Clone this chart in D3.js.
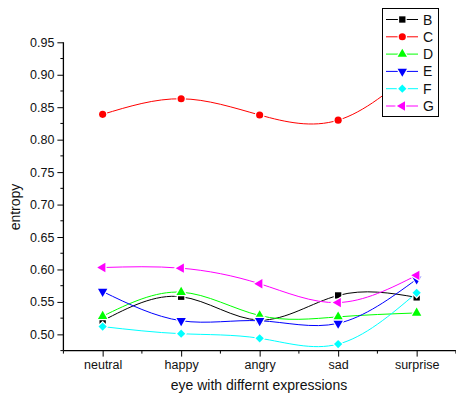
<!DOCTYPE html>
<html><head><meta charset="utf-8">
<script src="https://cdn.jsdelivr.net/npm/d3@7"></script>
<style>body{margin:0;background:#fff}svg{display:block;font-family:"Liberation Sans",Arial,sans-serif}</style>
</head><body><svg id="c" width="456" height="395"></svg>
<script>
const categories = ["neutral","happy","angry","sad","surprise"];
const seriesNames = ["B","C","D","E","F","G"];
const B = [0.521,0.558,0.522,0.560,0.557];
const C = [0.839,0.863,0.838,0.830,0.910];
const D = [0.528,0.565,0.529,0.527,0.533];
const E = [0.566,0.521,0.521,0.517,0.585];
const F = [0.512,0.501,0.494,0.485,0.564];
const G = [0.603,0.602,0.578,0.549,0.591];
const yTicks = [0.50,0.55,0.60,0.65,0.70,0.75,0.80,0.85,0.90,0.95];
const colors = ["#000000","#ff0000","#00ff00","#0000ff","#00ffff","#ff00ff"];
const symbols = ["square","circle","triangle","triangleDown","diamond","triangleLeft"];
const allSeries = [B,C,D,E,F,G];

const svg = d3.select("#c");
const x = d3.scaleLinear().domain([0.5,5.5]).range([63.4,455.9]);
const y = d3.scaleLinear().domain([0.475,0.95]).range([350.6,42.3]);

// axes
const yAxis = d3.axisLeft(y).tickValues(yTicks).tickFormat(d3.format(".2f")).tickSize(6).tickPadding(3);
const gy = svg.append("g").attr("transform","translate(63.4,0)").call(yAxis);
gy.select(".domain").attr("d","M0,"+y(0.475)+"V"+y(0.95)).attr("stroke","#000").attr("stroke-width",1.3);
gy.selectAll("text").attr("font-size","12.5px").attr("fill","#111");
const yMinor = d3.range(0.475,0.95,0.05).map(v=>+v.toFixed(3));
gy.selectAll(".mn").data(yMinor).enter().append("line").attr("x1",-3).attr("x2",0)
  .attr("y1",d=>y(d)).attr("y2",d=>y(d)).attr("stroke","#000");

const xAxis = d3.axisBottom(x).tickValues([1,2,3,4,5]).tickFormat(d=>categories[d-1]).tickSize(6).tickPadding(4);
const gx = svg.append("g").attr("transform","translate(0,350.6)").call(xAxis);
gx.select(".domain").attr("d","M"+x(0.5)+",0H"+x(5.5)).attr("stroke","#000").attr("stroke-width",1.3);
gx.selectAll("text").attr("font-size","12.5px").attr("fill","#111");
gx.selectAll(".mn").data([0.5,1.5,2.5,3.5,4.5,5.5]).enter().append("line").attr("y1",0).attr("y2",3)
  .attr("x1",d=>x(d)).attr("x2",d=>x(d)).attr("stroke","#000");

svg.append("text").attr("x",259).attr("y",390).attr("text-anchor","middle").attr("font-size","14px").attr("fill","#111")
  .text("eye with differnt expressions");
svg.append("text").attr("transform","translate(19.5,207) rotate(-90)").attr("text-anchor","middle").attr("font-size","14px").attr("fill","#111")
  .text("entropy");

const symType = {square:d3.symbolSquare,circle:d3.symbolCircle,triangle:d3.symbolTriangle,
  triangleDown:d3.symbolTriangle,diamond:d3.symbolSquare,triangleLeft:d3.symbolTriangle};
const symRot = {square:0,circle:0,triangle:0,triangleDown:180,diamond:45,triangleLeft:-90};
const symSize = {square:40,circle:40,triangle:38,triangleDown:38,diamond:34,triangleLeft:38};
function marker(g,s,c,cx,cy){
  g.append("path").attr("d",d3.symbol().type(symType[s]).size(symSize[s])())
   .attr("transform","translate("+cx+","+cy+") rotate("+symRot[s]+")")
   .attr("fill",c).attr("stroke","#fff").attr("stroke-width",2.5).attr("paint-order","stroke");
}
const line = d3.line().x((d,i)=>x(i+1)).y(d=>y(d)).curve(d3.curveNatural);
const plot = svg.append("g");
allSeries.forEach((vals,k)=>{
  plot.append("path").attr("d",line(vals)).attr("fill","none").attr("stroke",colors[k]).attr("stroke-width",1);
});
allSeries.forEach((vals,k)=>{
  vals.forEach((v,i)=>marker(plot,symbols[k],colors[k],x(i+1),y(v)));
});

// legend
const lg = svg.append("g");
lg.append("rect").attr("x",382.5).attr("y",8.5).attr("width",56).attr("height",108).attr("fill","#fff").attr("stroke","#000");
seriesNames.forEach((n,k)=>{
  const cy = 19.5 + k*17.3;
  lg.append("line").attr("x1",386).attr("x2",418).attr("y1",cy).attr("y2",cy).attr("stroke",colors[k]);
  marker(lg,symbols[k],colors[k],402.3,cy);
  lg.append("text").attr("x",423).attr("y",cy+5).attr("font-size","14px").attr("fill","#111").text(n);
});
</script></body></html>
